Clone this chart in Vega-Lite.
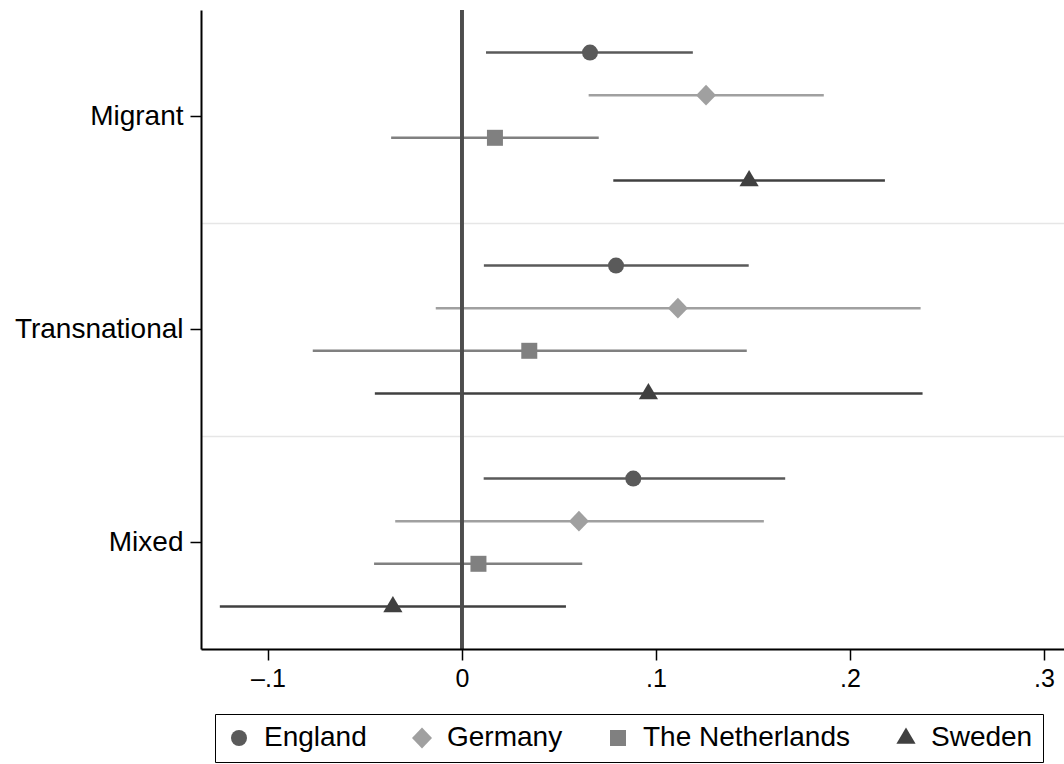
{
  "$schema": "https://vega.github.io/schema/vega-lite/v6.json",
  "width": 863,
  "height": 639,
  "autosize": {"type": "none"},
  "padding": {"left": 201, "top": 10, "right": 0, "bottom": 115},
  "background": "white",
  "config": {
    "font": "Liberation Sans",
    "view": {"stroke": null}
  },
  "data": {
    "values": [
      {"category": "Migrant", "country": "England", "est": 0.066, "lo": 0.0124, "hi": 0.119},
      {"category": "Migrant", "country": "Germany", "est": 0.1258, "lo": 0.0653, "hi": 0.1865},
      {"category": "Migrant", "country": "The Netherlands", "est": 0.017, "lo": -0.0365, "hi": 0.0705},
      {"category": "Migrant", "country": "Sweden", "est": 0.148, "lo": 0.078, "hi": 0.218},
      {"category": "Transnational", "country": "England", "est": 0.0794, "lo": 0.0113, "hi": 0.1478},
      {"category": "Transnational", "country": "Germany", "est": 0.1113, "lo": -0.0135, "hi": 0.2364},
      {"category": "Transnational", "country": "The Netherlands", "est": 0.0347, "lo": -0.0769, "hi": 0.1468},
      {"category": "Transnational", "country": "Sweden", "est": 0.0961, "lo": -0.0449, "hi": 0.2374},
      {"category": "Mixed", "country": "England", "est": 0.0883, "lo": 0.0112, "hi": 0.1666},
      {"category": "Mixed", "country": "Germany", "est": 0.0603, "lo": -0.0344, "hi": 0.1556},
      {"category": "Mixed", "country": "The Netherlands", "est": 0.0085, "lo": -0.0453, "hi": 0.062},
      {"category": "Mixed", "country": "Sweden", "est": -0.0356, "lo": -0.1248, "hi": 0.0536}
    ]
  },
  "layer": [
    {
      "mark": {"type": "rule", "strokeWidth": 2.5},
      "encoding": {
        "y": {
          "field": "category", "type": "nominal", "title": null,
          "scale": {"domain": ["Migrant", "Transnational", "Mixed"], "paddingInner": 0, "paddingOuter": 0},
          "axis": {
            "orient": "left", "grid": false, "domain": true, "domainColor": "black", "domainWidth": 2,
            "ticks": true, "tickColor": "black", "tickWidth": 1.5, "tickSize": 11,
            "labelFontSize": 28, "labelColor": "black", "labelPadding": 7, "labelFont": "Liberation Sans"
          }
        },
        "yOffset": {
          "field": "country", "type": "nominal",
          "scale": {"domain": ["England", "Germany", "The Netherlands", "Sweden"], "paddingInner": 0, "paddingOuter": 0.5}
        },
        "x": {
          "field": "lo", "type": "quantitative", "title": null,
          "scale": {"domain": [-0.1345, 0.3103], "nice": false, "zero": false},
          "axis": {
            "values": [-0.1, 0, 0.1, 0.2, 0.3],
            "labelExpr": "datum.value == 0 ? '0' : (datum.value < 0 ? '–' : '') + replace(format(abs(datum.value), '.1f'), '0.', '.')",
            "grid": false, "domain": true, "domainColor": "black", "domainWidth": 2,
            "tickColor": "black", "tickWidth": 1.5, "tickSize": 11,
            "labelFontSize": 25, "labelColor": "black", "labelPadding": 6, "labelFont": "Liberation Sans",
            "zindex": 1
          }
        },
        "x2": {"field": "hi"},
        "color": {
          "field": "country", "type": "nominal",
          "scale": {"domain": ["England", "Germany", "The Netherlands", "Sweden"], "range": ["#5a5a5a", "#a0a0a0", "#808080", "#404040"]},
          "legend": null
        }
      }
    },
    {
      "mark": {"type": "rule", "color": "#4d4d4d", "strokeWidth": 2.5},
      "encoding": {"x": {"datum": 0, "title": null}}
    },
    {
      "mark": {"type": "point", "filled": true, "opacity": 1, "size": 256, "strokeWidth": 0},
      "encoding": {
        "y": {
          "field": "category", "type": "nominal", "title": null,
          "axis": {
            "orient": "right", "grid": true, "bandPosition": 1, "gridColor": "#e6e6e6", "gridWidth": 1.5,
            "labels": false, "ticks": false, "domain": false
          }
        },
        "yOffset": {"field": "country", "type": "nominal"},
        "x": {"field": "est", "type": "quantitative", "title": null},
        "color": {
          "field": "country", "type": "nominal",
          "legend": {
            "orient": "none", "legendX": 14, "legendY": 704, "direction": "horizontal", "title": null,
            "labelFontSize": 28, "labelColor": "black", "labelFont": "Liberation Sans", "labelLimit": 400,
            "symbolSize": 256, "symbolStrokeWidth": 0, "symbolOpacity": 1,
            "labelOffset": 11, "columnPadding": 41, "padding": 10, "gridAlign": "none",
            "strokeColor": "black", "fillColor": "white"
          }
        },
        "shape": {
          "field": "country", "type": "nominal",
          "scale": {
            "domain": ["England", "Germany", "The Netherlands", "Sweden"],
            "range": ["circle", "M-1.25,0L0,-1.3L1.25,0L0,1.3Z", "square", "M0,-1.3L1.2,0.72L-1.2,0.72Z"]
          },
          "legend": {
            "orient": "none", "legendX": 14, "legendY": 704, "direction": "horizontal", "title": null,
            "labelFontSize": 28, "labelColor": "black", "labelFont": "Liberation Sans", "labelLimit": 400,
            "symbolSize": 256, "symbolStrokeWidth": 0, "symbolOpacity": 1,
            "labelOffset": 11, "columnPadding": 41, "padding": 10, "gridAlign": "none",
            "strokeColor": "black", "fillColor": "white"
          }
        }
      }
    }
  ],
  "resolve": {
    "axis": {"y": "independent"},
    "legend": {"color": "independent", "shape": "independent"}
  }
}
